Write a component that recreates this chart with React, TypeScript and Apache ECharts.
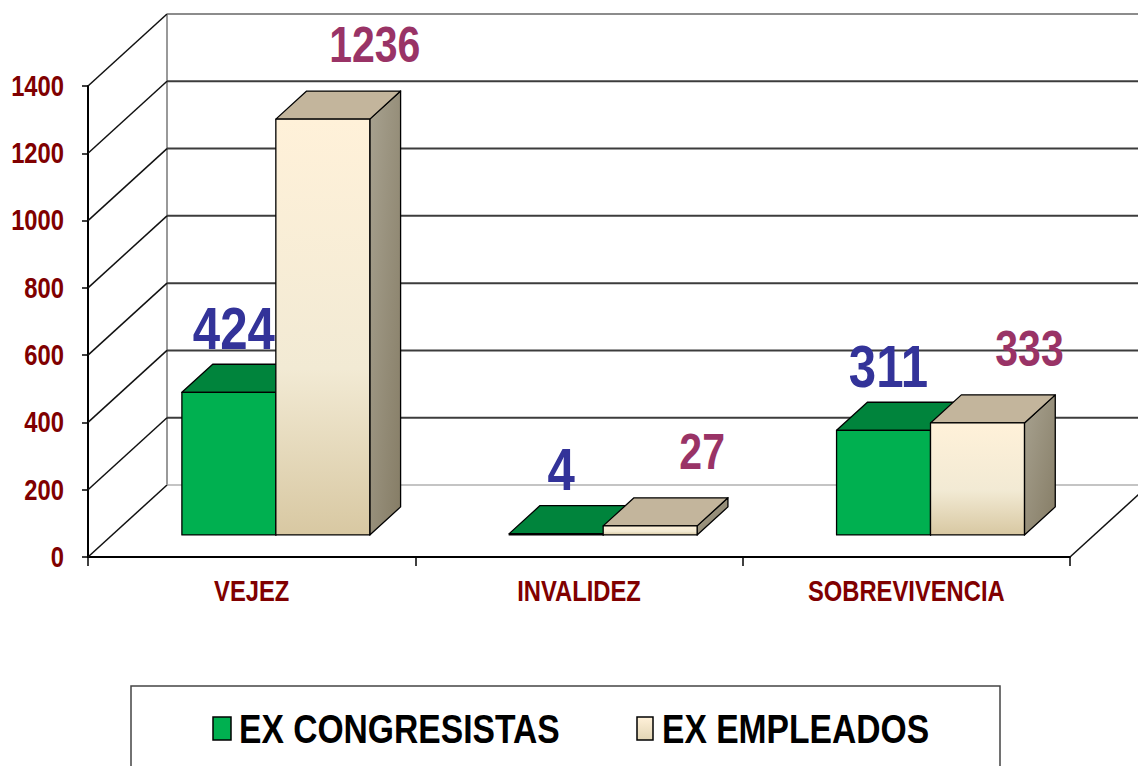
import React, { useEffect, useRef } from 'react';
import * as echarts from 'echarts';

const categories = ['VEJEZ', 'INVALIDEZ', 'SOBREVIVENCIA'];
const seriesNames = ['EX CONGRESISTAS', 'EX EMPLEADOS'];
const exCongresistas = [424, 4, 311];
const exEmpleados = [1236, 27, 333];
const yTicks = [0, 200, 400, 600, 800, 1000, 1200, 1400];

const FONT = "'Liberation Sans', Arial, sans-serif";
const NARROW_SCALE = 0.82;
const AXIS_RED = '#800000';
const DX = 79;
const DY = -72;
const BAR_FRONT = 0.306;
const BAR_DEPTH = 0.39;
const BAR_W = 0.287;

const narrowText = (x: number, y: number, text: string, style: any) => ({
  type: 'text',
  x,
  y,
  scaleX: NARROW_SCALE,
  style: {
    text,
    x: 0,
    y: 0,
    fontFamily: FONT,
    fontWeight: 'bold',
    verticalAlign: 'middle',
    ...style,
  },
});

const frameRender = (params: any, api: any) => {
  const cs = params.coordSys;
  const v = api.value(1);
  const y = api.coord([0, v])[1];
  const x0 = cs.x;
  const n = yTicks.length;
  const idx = params.dataIndex;
  const backColor = idx === 0 ? '#c4c4c4' : idx === n - 1 ? '#8c8c8c' : '#3c3c3c';
  const children: any[] = [
    {
      type: 'line',
      shape: { x1: x0 + DX, y1: y + DY, x2: x0 + cs.width + DX, y2: y + DY },
      style: { stroke: backColor, lineWidth: 2 },
    },
    {
      type: 'line',
      shape: { x1: x0, y1: y, x2: x0 + DX, y2: y + DY },
      style: { stroke: '#111', lineWidth: 1.5 },
    },
    narrowText(x0 - 24, y, String(v), { fill: AXIS_RED, fontSize: 29, align: 'right' }),
  ];
  if (idx === 0) {
    const yTop = api.coord([0, yTicks[n - 1]])[1];
    children.push({
      type: 'line',
      shape: { x1: x0 + DX, y1: y + DY, x2: x0 + DX, y2: yTop + DY },
      style: { stroke: '#999', lineWidth: 2 },
    });
    children.push({
      type: 'line',
      shape: { x1: x0 + cs.width, y1: y, x2: x0 + cs.width + DX, y2: y + DY },
      style: { stroke: '#111', lineWidth: 1.5 },
    });
  }
  return { type: 'group', children };
};

const categoryRender = (params: any, api: any) => {
  const p = api.coord([api.value(0), 0]);
  return narrowText(p[0], p[1] + 34, categories[params.dataIndex], {
    fill: AXIS_RED,
    fontSize: 29,
    align: 'center',
  });
};

const barStyles = [
  {
    front: '#00B050',
    top: '#00843C',
    side: '#006B30',
    label: '#333399',
    fontSize: 60,
    lx: 5,
    ly: 36,
  },
  {
    front: new echarts.graphic.LinearGradient(0, 0, 0, 1, [
      { offset: 0, color: '#FFF1D9' },
      { offset: 0.6, color: '#F2EAD4' },
      { offset: 1, color: '#D8C8A2' },
    ]),
    top: '#C3B59C',
    side: new echarts.graphic.LinearGradient(0, 0, 1, 1, [
      { offset: 0, color: '#A8A290' },
      { offset: 1, color: '#857C65' },
    ]),
    label: '#993366',
    fontSize: 50,
    lx: 52,
    ly: 46,
  },
];

const makeBar = (si: number) => (params: any, api: any) => {
  const cat = api.value(0);
  const val = api.value(1);
  const base = api.coord([cat, 0]);
  const topP = api.coord([cat, val]);
  const cw = api.size([1, 0])[0];
  const bw = cw * BAR_W;
  const fx = DX * BAR_FRONT;
  const fy = DY * BAR_FRONT;
  const dx = DX * BAR_DEPTH;
  const dy = DY * BAR_DEPTH;
  const x1 = base[0] + fx + (si === 0 ? -bw : 0);
  const x2 = x1 + bw;
  const yb = base[1] + fy;
  const yt = topP[1] + fy;
  const st = barStyles[si];
  const edge = { stroke: '#000', lineWidth: 1.3, lineJoin: 'round' };
  return {
    type: 'group',
    children: [
      {
        type: 'polygon',
        shape: { points: [[x2, yt], [x2 + dx, yt + dy], [x2 + dx, yb + dy], [x2, yb]] },
        style: { fill: st.side, ...edge },
      },
      {
        type: 'polygon',
        shape: { points: [[x1, yt], [x2, yt], [x2 + dx, yt + dy], [x1 + dx, yt + dy]] },
        style: { fill: st.top, ...edge },
      },
      {
        type: 'rect',
        shape: { x: x1, y: yt, width: bw, height: Math.max(yb - yt, 0.5) },
        style: { fill: st.front, ...edge },
      },
      narrowText(x1 + bw / 2 + st.lx, yt + dy - st.ly, String(val), {
        fill: st.label,
        fontSize: st.fontSize,
        align: 'center',
      }),
    ],
  };
};

export default function App() {
  const ref = useRef<HTMLDivElement>(null);
  useEffect(() => {
    if (!ref.current) return;
    const chart = echarts.init(ref.current, null, { renderer: 'svg' });
    chart.setOption({
      animation: false,
      backgroundColor: '#fff',
      grid: {
        left: 88,
        top: 86,
        right: 68,
        bottom: 209,
        containLabel: false,
        outerBoundsMode: 'none',
      },
      xAxis: {
        type: 'category',
        data: categories,
        axisLine: { show: true, lineStyle: { color: '#000', width: 2 } },
        axisTick: { show: true, length: 9, lineStyle: { color: '#000', width: 1.5 } },
        axisLabel: { show: false },
        splitLine: { show: false },
      },
      yAxis: {
        type: 'value',
        min: 0,
        max: 1400,
        interval: 200,
        axisLine: { show: true, lineStyle: { color: '#000', width: 2 } },
        axisTick: { show: true, length: 6, lineStyle: { color: '#000', width: 1.5 } },
        axisLabel: { show: false },
        splitLine: { show: false },
      },
      graphic: [
        {
          type: 'rect',
          shape: { x: 131, y: 686, width: 869, height: 120 },
          style: { fill: '#fff', stroke: '#444', lineWidth: 1.5 },
          z: -1,
        },
        {
          type: 'rect',
          shape: { x: 213, y: 717, width: 18, height: 23 },
          style: { fill: '#00B050', stroke: '#000', lineWidth: 1.5 },
        },
        {
          type: 'text',
          x: 239,
          y: 729,
          scaleX: NARROW_SCALE,
          style: {
            text: seriesNames[0],
            x: 0,
            y: 0,
            fill: '#000',
            fontSize: 41,
            fontWeight: 'bold',
            fontFamily: FONT,
            align: 'left',
            verticalAlign: 'middle',
          },
        },
        {
          type: 'rect',
          shape: { x: 637, y: 717, width: 16, height: 23 },
          style: {
            fill: new echarts.graphic.LinearGradient(0, 0, 0, 1, [
              { offset: 0, color: '#FFF1D9' },
              { offset: 1, color: '#E2D5B4' },
            ]),
            stroke: '#000',
            lineWidth: 1.5,
          },
        },
        {
          type: 'text',
          x: 662,
          y: 729,
          scaleX: NARROW_SCALE,
          style: {
            text: seriesNames[1],
            x: 0,
            y: 0,
            fill: '#000',
            fontSize: 41,
            fontWeight: 'bold',
            fontFamily: FONT,
            align: 'left',
            verticalAlign: 'middle',
          },
        },
      ],
      series: [
        {
          type: 'custom',
          name: 'frame',
          renderItem: frameRender,
          data: yTicks.map((v) => [0, v]),
          silent: true,
          z: 1,
        },
        {
          type: 'custom',
          name: 'categories',
          renderItem: categoryRender,
          data: categories.map((_, i) => [i, 0]),
          silent: true,
          z: 1,
        },
        {
          type: 'custom',
          name: seriesNames[0],
          renderItem: makeBar(0),
          itemStyle: { color: '#00B050' },
          data: exCongresistas.map((v, i) => [i, v]),
          z: 2,
        },
        {
          type: 'custom',
          name: seriesNames[1],
          renderItem: makeBar(1),
          itemStyle: { color: '#F3EAD2' },
          data: exEmpleados.map((v, i) => [i, v]),
          z: 3,
        },
      ],
    });
    return () => chart.dispose();
  }, []);
  return (
    <div
      ref={ref}
      style={{ position: 'fixed', left: 0, top: 0, width: 1138, height: 766, background: '#fff' }}
    />
  );
}
